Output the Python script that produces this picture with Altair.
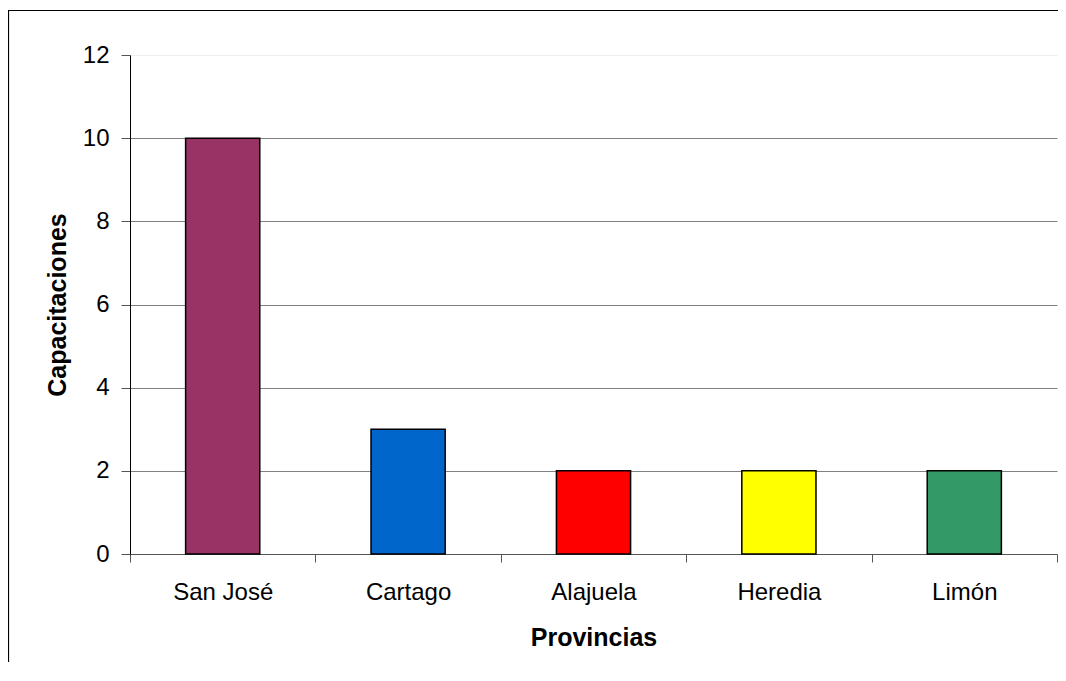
import altair as alt
import pandas as pd

provincias = ["San José", "Cartago", "Alajuela", "Heredia", "Limón"]
capacitaciones = [10, 3, 2, 2, 2]
colores = ["#993366", "#0066CC", "#FF0000", "#FFFF00", "#339966"]
y_ticks = [0, 2, 4, 6, 8, 10, 12]

df = pd.DataFrame({"Provincia": provincias, "Capacitaciones": capacitaciones})

W, H = 927, 499
FONT = "Liberation Sans"

bars = alt.Chart(df).mark_bar(
    stroke="black", strokeWidth=1.5, width=alt.RelativeBandSize(0.4)
).encode(
    x=alt.X(
        "Provincia:N",
        sort=provincias,
        scale=alt.Scale(paddingInner=0, paddingOuter=0),
        axis=alt.Axis(
            title="Provincias",
            labelAngle=0,
            tickBand="extent",
            tickSize=8,
            labelBaseline="alphabetic",
            labelPadding=37,
            domainColor="#555555",
            tickColor="#555555",
            titleY=91,
            titleBaseline="alphabetic",
            grid=False,
        ),
    ),
    y=alt.Y(
        "Capacitaciones:Q",
        scale=alt.Scale(domain=[0, 12]),
        axis=alt.Axis(
            title="Capacitaciones",
            values=y_ticks,
            tickSize=9,
            labelPadding=12,
            domainColor="black",
            tickColor="#555555",
            grid=True,
            gridColor={"condition": {"test": "datum.value == 12", "value": "#eeeeee"}, "value": "#808080"},
            titleX=-65,
            titleBaseline="alphabetic",
        ),
    ),
    color=alt.Color("Provincia:N", scale=alt.Scale(domain=provincias, range=colores), legend=None),
)

border = alt.Chart(pd.DataFrame({"b": [0]})).mark_rect(
    fill="transparent", stroke="black", strokeWidth=1.2
).encode(
    x=alt.value(-121.5), x2=alt.value(960), y=alt.value(-44.5), y2=alt.value(720)
)

chart = alt.layer(border, bars).properties(
    width=W,
    height=H,
    autosize="none",
    padding={"left": 122, "top": 47, "right": 1, "bottom": 108},
).configure_view(
    strokeWidth=0
).configure_axis(
    labelFont=FONT,
    labelFontSize=24,
    labelColor="black",
    titleFont=FONT,
    titleFontSize=25,
    titleFontWeight="bold",
    titleColor="black",
    domainWidth=1,
    tickWidth=1,
    gridWidth=1,
)

chart.save("out.html", embed_options={"renderer": "svg", "actions": False})
